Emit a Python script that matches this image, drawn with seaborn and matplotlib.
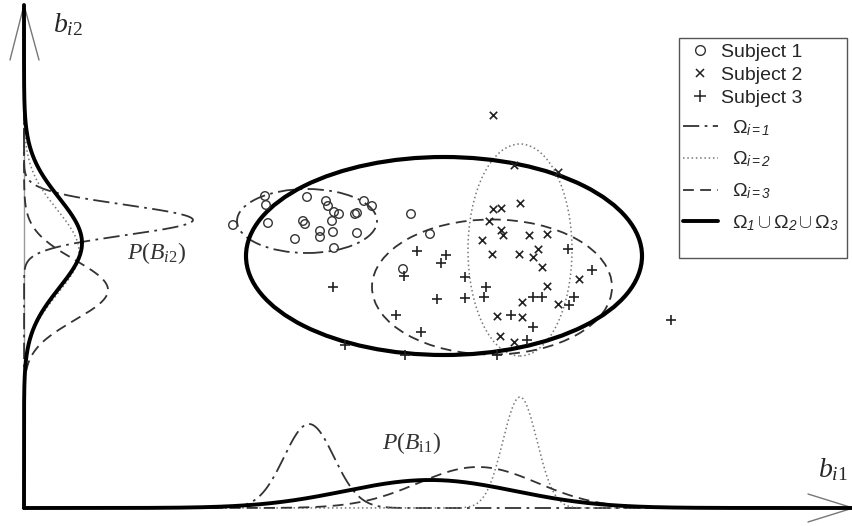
import numpy as np
import pandas as pd
import matplotlib
matplotlib.use("Agg")
import matplotlib.pyplot as plt
import seaborn as sns
from matplotlib.patches import Ellipse, Rectangle
from matplotlib.lines import Line2D

# ---------------- data (origin at the axes corner) ----------------
s1_x = [209, 241, 242, 244, 283, 302, 304, 310, 315, 308, 279, 281, 296, 296, 309,
        271, 333, 331, 333, 340, 348, 310, 387, 406, 379]
s1_y = [283, 312, 303, 285, 311, 307, 302, 296, 294, 287, 287, 284, 277, 271, 276,
        269, 295, 294, 275, 307, 302, 260, 294, 274, 239]

s2_x = [469, 490, 534, 496, 469, 477, 465, 477, 479, 458, 505, 523, 468, 495, 509,
        514, 518, 555, 523, 498, 534, 473, 498, 476, 490]
s2_y = [393, 343, 336, 305, 299, 300, 287, 278, 273, 268, 273, 274, 254, 254, 251,
        259, 241, 229, 222, 206, 204, 192, 191, 172, 166]

s3_x = [544, 568, 393, 422, 417, 380, 441, 462, 413, 441, 460, 509, 518, 550, 545,
        372, 487, 509, 397, 503, 473, 381, 309, 321, 647]
s3_y = [259, 238, 257, 253, 245, 232, 231, 221, 209, 210, 211, 211, 211, 211, 203,
        193, 193, 181, 176, 168, 153, 153, 221, 163, 188]

# clusters: Omega_1, Omega_2, Omega_3, union
ell_cx = [283, 496, 468, 420]
ell_cy = [287, 258, 221, 252]
ell_w = [140, 104, 240, 396]
ell_h = [64, 212, 135, 198]

# marginal densities along b_i1 (mean, sd, peak height)
bx_mean = [285, 496, 454, 406]
bx_sd = [25, 17, 60, 85]
bx_peak = [84, 111, 41, 28]

# marginal densities along b_i2
ly_mean = [288, 256, 218, 265]
ly_sd = [15, 42, 30, 45]
ly_peak = [169, 55, 84, 58]

subject_labels = ["Subject 1", "Subject 2", "Subject 3"]
omega_labels = [r"$\mathsf{\Omega}_{\mathcal{i=1}}$",
                r"$\mathsf{\Omega}_{\mathcal{i=2}}$",
                r"$\mathsf{\Omega}_{\mathcal{i=3}}$",
                r"$\mathsf{\Omega}_{\mathcal{1}}\cup\mathsf{\Omega}_{\mathcal{2}}\cup\mathsf{\Omega}_{\mathcal{3}}$"]

# ---------------- style ----------------
sns.set_theme(style="white")
plt.rcParams["font.family"] = ["Liberation Sans", "DejaVu Sans"]
plt.rcParams["mathtext.fontset"] = "custom"
plt.rcParams["mathtext.rm"] = "Liberation Serif"
plt.rcParams["mathtext.it"] = "Liberation Serif:italic"
plt.rcParams["mathtext.sf"] = "Liberation Sans"
plt.rcParams["mathtext.cal"] = "Liberation Sans:italic"

styles = [
    dict(color="#333333", lw=1.3, dashes=(9, 3, 1.5, 3)),
    dict(color="#777777", lw=1.1, dashes=(1, 1.8)),
    dict(color="#333333", lw=1.3, dashes=(6, 3.5)),
    dict(color="#000000", lw=2.8, dashes=()),
]

W, H = 853, 526
fig = plt.figure(figsize=(W / 100, H / 100), dpi=100)
ax = fig.add_axes([0, 0, 1, 1])
ax.set_xlim(-24, 829)
ax.set_ylim(-18, 508)
ax.axis("off")

# thin vertical axis line
ax.plot([0, 0], [0, 503], color="#999999", lw=1.0, zorder=1)

# marginal densities
gx = np.linspace(0, 829, 800)
gy = np.linspace(0, 503, 600)
for i in range(4):
    st = styles[i]
    dx = bx_peak[i] * np.exp(-0.5 * ((gx - bx_mean[i]) / bx_sd[i]) ** 2)
    dy = ly_peak[i] * np.exp(-0.5 * ((gy - ly_mean[i]) / ly_sd[i]) ** 2)
    z = 5 if i == 3 else 3
    kw = dict(color=st["color"], lw=st["lw"], zorder=z)
    if st["dashes"]:
        kw["dashes"] = st["dashes"]
    sns.lineplot(x=gx, y=dx, sort=False, estimator=None, ax=ax, **kw)
    sns.lineplot(x=dy, y=gy, sort=False, estimator=None, ax=ax, **kw)

# arrowheads
ax.plot([-14, 0, 15], [448, 503, 448], color="#777777", lw=1.0, zorder=2)
ax.plot([784, 829, 784], [14, 0, -14], color="#777777", lw=1.0, zorder=2)

# cluster ellipses
for i in range(4):
    st = styles[i]
    e = Ellipse((ell_cx[i], ell_cy[i]), ell_w[i], ell_h[i], fill=False,
                edgecolor=st["color"], lw=(3.0 if i == 3 else st["lw"]),
                zorder=4)
    if st["dashes"]:
        e.set_linestyle((0, st["dashes"]))
    ax.add_patch(e)

# subjects
sns.scatterplot(x=s1_x, y=s1_y, marker="o", s=38, facecolors="none",
                edgecolor="#333333", linewidth=1.0, ax=ax, zorder=6)
sns.scatterplot(x=s2_x, y=s2_y, marker="x", s=28, color="#222222",
                linewidth=1.2, ax=ax, zorder=6)
sns.scatterplot(x=s3_x, y=s3_y, marker="+", s=55, color="#222222",
                linewidth=1.2, ax=ax, zorder=6)

# labels
ax.text(44, 483, r"$b_{i2}$", fontsize=20, ha="center", va="center")
ax.text(809, 38, r"$b_{i1}$", fontsize=20, ha="center", va="center")
ax.text(133, 255, r"$P(B_{\mathit{i2}})$", fontsize=17, ha="center", va="center",
        color="#333333")
ax.text(388, 65, r"$P(B_{\mathrm{i1}})$", fontsize=17, ha="center", va="center",
        color="#333333")

# legend frame
fig.patches.append(Rectangle((679 / W, 1 - 258 / H), (847 - 679) / W, (258 - 38) / H,
                             transform=fig.transFigure, facecolor="white",
                             edgecolor="#555555", lw=1.0, zorder=1))

h_subj = [
    Line2D([], [], marker="o", ls="none", mfc="none", mec="#333333", ms=7, mew=1.0),
    Line2D([], [], marker="x", ls="none", color="#222222", ms=6, mew=1.1),
    Line2D([], [], marker="+", ls="none", color="#222222", ms=8, mew=1.1),
]
h_om = []
for i in range(4):
    st = styles[i]
    h = Line2D([], [], color=st["color"], lw=st["lw"])
    if st["dashes"]:
        h.set_dashes(st["dashes"])
    h_om.append(h)

leg1 = fig.legend(h_subj, subject_labels, loc="upper left",
                  bbox_to_anchor=(683 / W, 1 - 43 / H), fontsize=14,
                  frameon=False, handlelength=1.7, handletextpad=0.25,
                  labelspacing=0.28, borderpad=0, borderaxespad=0)
leg2 = fig.legend(h_om, omega_labels, loc="upper left",
                  bbox_to_anchor=(683 / W, 1 - 118 / H), fontsize=14,
                  frameon=False, handlelength=1.8, handletextpad=0.7,
                  labelspacing=0.62, borderpad=0, borderaxespad=0)

fig.savefig("out.png", dpi=100, facecolor="white")
